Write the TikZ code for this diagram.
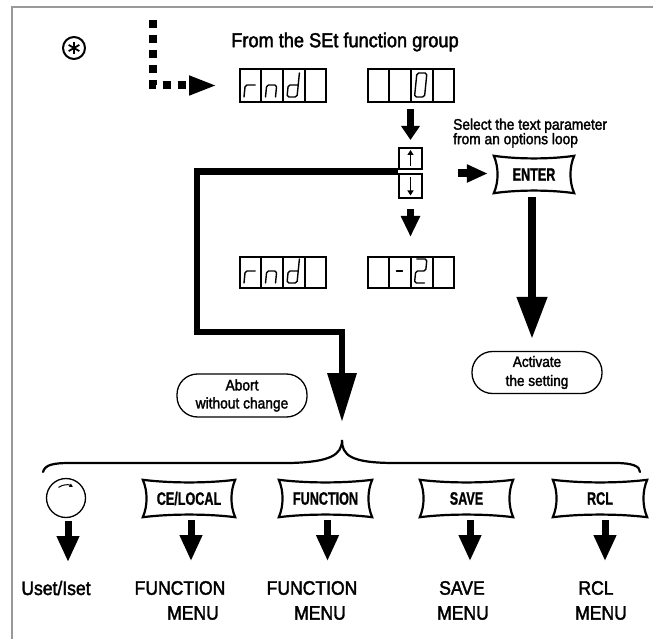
\documentclass[tikz,border=0pt]{standalone}
\usepackage{fontspec}
\setmainfont[FakeStretch=0.9,FakeBold=2]{Liberation Sans}
\newfontfamily\keyfont[FakeStretch=0.7,FakeBold=1]{Liberation Sans Bold}
\usetikzlibrary{arrows.meta,calc}
\tikzset{
  frameline/.style={draw=black!40, line width=2.4pt},
  disp/.style={draw, line width=2pt, minimum width=86pt, minimum height=33pt, inner sep=0pt},
  segline/.style={line width=1.4pt, rounded corners=1.8pt, line cap=round, line join=round},
  ubox/.style={draw, line width=2pt, minimum width=23pt, inner sep=0pt},
  keybtn/.style={minimum height=37pt, inner sep=0pt, font=\keyfont\fontsize{18}{18}\selectfont},
  keyline/.style={line width=2.2pt, line join=miter},
  stadium/.style={draw, line width=1.3pt, rounded corners=20.5pt, minimum width=130pt, minimum height=42pt, inner sep=0pt, align=center},
  lab/.style={font=\fontsize{19.5}{19.5}\selectfont, inner sep=0pt},
  arrS/.style={line width=7pt, -{Triangle[width=19pt,length=20pt]}},
  arrB/.style={line width=7pt, -{Triangle[width=21pt,length=26pt]}},
  arrL/.style={line width=7.5pt, -{Triangle[width=29pt,length=42pt]}},
  arrLoop/.style={line width=6.5pt, -{Triangle[width=28pt,length=49pt]}},
  dotarr/.style={line width=8pt, dash pattern=on 8pt off 7pt, -{Triangle[width=18pt,length=28pt]}},
}
\newcommand\keyoutline[1]{%
  \draw[keyline] (#1.north west)
   .. controls ($(#1.north west)!0.3!(#1.north east)+(0,-3.5)$) and ($(#1.north west)!0.7!(#1.north east)+(0,-3.5)$) .. (#1.north east)
   .. controls ($(#1.north east)!0.3!(#1.south east)+(-5,0)$) and ($(#1.north east)!0.7!(#1.south east)+(-5,0)$) .. (#1.south east)
   .. controls ($(#1.south east)!0.3!(#1.south west)+(0,3.5)$) and ($(#1.south east)!0.7!(#1.south west)+(0,3.5)$) .. (#1.south west)
   .. controls ($(#1.south west)!0.3!(#1.north west)+(5,0)$) and ($(#1.south west)!0.7!(#1.north west)+(5,0)$) .. cycle;}
\newcommand\celldividers[1]{%
  \foreach \f in {0.25,0.5,0.75}
    \draw[line width=2pt] ($(#1.north west)!\f!(#1.north east)$) -- ($(#1.south west)!\f!(#1.south east)$);}
\newcommand\sevenseg[3]{%
  \begin{scope}[shift={(#1+4,#2+5)}, x=10pt, y=24pt, xslant=0.1]
    \draw[segline] #3;
  \end{scope}}
\begin{document}
\begin{tikzpicture}[x=1pt,y=1pt]
\useasboundingbox (0,0) rectangle (653,-639);
% frame
\draw[frameline] (12,-639) -- (12,-7) -- (653,-7);

% star symbol
\node[circle, draw, line width=2pt, minimum size=22pt, inner sep=0pt] (star) at (74,-48) {};
\foreach \a in {90,30,150,210,270,330}
  \draw[line width=1.8pt] (star.center) -- ++(\a:6.2);

% title
\node[font=\fontsize{20.2}{20.2}\selectfont] (title) at (345,-42) {From the SEt function group};

% displays
\node[disp] (d1) at (283,-85.5) {};
\node[disp] (d2) at (410.5,-85.5) {};
\node[disp, minimum height=31pt] (d3) at (283,-272.5) {};
\node[disp, minimum height=31pt] (d4) at (410.5,-272.5) {};
\celldividers{d1}\celldividers{d2}\celldividers{d3}\celldividers{d4}
% digits
\sevenseg{240}{-102}{(0,0) -- (0,0.5) -- (1,0.5)}
\sevenseg{261.5}{-102}{(0,0) -- (0,0.5) -- (1,0.5) -- (1,0)}
\sevenseg{283}{-102}{(1,1) -- (1,0) -- (0,0) -- (0,0.5) -- (1,0.5)}
\sevenseg{410.5}{-102}{(0,0) -- (0,1) -- (1,1) -- (1,0) -- cycle}
\sevenseg{240}{-288}{(0,0) -- (0,0.5) -- (1,0.5)}
\sevenseg{261.5}{-288}{(0,0) -- (0,0.5) -- (1,0.5) -- (1,0)}
\sevenseg{283}{-288}{(1,1) -- (1,0) -- (0,0) -- (0,0.5) -- (1,0.5)}
\sevenseg{389.25}{-288}{(0.2,0.5) -- (0.8,0.5)}
\sevenseg{410.5}{-288}{(0,1) -- (1,1) -- (1,0.5) -- (0,0.5) -- (0,0) -- (1,0)}

% dotted arrow into first display
\coordinate (dotstart) at (153,-20);
\draw[dotarr] (dotstart) -- (dotstart |- d1.west) -- ([xshift=-22pt]d1.west);

% up/down keys
\node[ubox, minimum height=21pt] (up) at (410.5,-158.5) {};
\node[ubox, minimum height=24pt] (dn) at (410.5,-186) {};
\draw[line width=1.8pt, -{Triangle[width=6pt,length=5pt]}] ($(up.south)+(0,3.5)$) -- ($(up.north)+(0,-3)$);
\draw[line width=1.8pt, -{Triangle[width=6pt,length=5pt]}] ($(dn.north)+(0,-4)$) -- ($(dn.south)+(0,3.5)$);

\draw[arrS, -{Triangle[width=18pt,length=14pt]}] ([yshift=-6pt]d2.south) -- ([yshift=7pt]up.north);
\draw[arrS, -{Triangle[width=18pt,length=21pt]}] ([yshift=-10pt]dn.south) -- ([yshift=19pt]d4.north);

% select text
\node[anchor=west, align=left, inner sep=0pt, font=\fontsize{15.3}{14.5}\selectfont] (sel) at (453,-133) {Select the text parameter\\from an options loop};

% ENTER key
\node[keybtn, minimum width=80pt] (enter) at (534,-174.5) {ENTER};
\keyoutline{enter}
\draw[line width=8pt, -{Triangle[width=17pt,length=21pt]}] ([xshift=-36pt,yshift=1pt]enter.west) -- ([xshift=-6pt,yshift=1pt]enter.west);

% Activate
\node[stadium, font=\fontsize{15.1}{19}\selectfont] (act) at (537,-372.5) {Activate\\the setting};
\draw[arrL] ([xshift=-2pt,yshift=-4pt]enter.south) -- ([xshift=-5pt,yshift=12pt]act.north);

% Abort
\node[stadium, minimum height=43pt, font=\fontsize{15.3}{18}\selectfont] (abort) at (242,-395.5) {Abort\\without change};

% loop line
\coordinate (loopstart) at ($(up.south west)!0.5!(dn.north west)$);
\coordinate (bracetip) at (342,-440);
\draw[arrLoop] (loopstart) -- (197,-171.5) -- (197,-332) -- (342,-332) -- ([yshift=18pt]bracetip);

% brace
\draw[line width=2.2pt, line cap=round] (43,-472) .. controls (45,-465) and (52,-463) .. (70,-463) -- (290,-463)
  .. controls (330,-462) and (342,-455) .. (bracetip)
  .. controls (342,-455) and (350,-463) .. (395,-463) -- (615,-463)
  .. controls (632,-463) and (640,-466) .. (640,-472);

% bottom row
\node[circle, draw, line width=1.3pt, minimum size=39pt, inner sep=0pt] (knob) at (66,-498) {};
\draw[line width=1pt, -{Triangle[width=3.5pt,length=3.5pt]}] ($(knob.center)+(125:13)$) arc[start angle=125, end angle=58, radius=13];
\node[keybtn, minimum width=92pt] (ce) at (189,-498.5) {CE/LOCAL};
\node[keybtn, minimum width=93pt] (fn) at (325.5,-498.5) {FUNCTION};
\node[keybtn, minimum width=93pt] (sv) at (466.5,-498.5) {SAVE};
\node[keybtn, minimum width=94pt] (rc) at (600,-498.5) {RCL};
\keyoutline{ce}\keyoutline{fn}\keyoutline{sv}\keyoutline{rc}

\node[lab] (l1) at (56,-588) {Uset/Iset};
\node[lab] (l2a) at (180,-588) {FUNCTION};
\node[lab] (l2b) at (193,-613) {MENU};
\node[lab] (l3a) at (312,-588) {FUNCTION};
\node[lab] (l3b) at (320,-613) {MENU};
\node[lab] (l4a) at (462,-588) {SAVE};
\node[lab] (l4b) at (463,-613) {MENU};
\node[lab] (l5a) at (596,-588) {RCL};
\node[lab] (l5b) at (601,-613) {MENU};

\draw[arrB] ([xshift=2pt,yshift=-3pt]knob.south) -- ++(0,-41);
\draw[arrB] ([xshift=2pt,yshift=-3pt]ce.south) -- ++(0,-41);
\draw[arrB] ([xshift=2pt,yshift=-3pt]fn.south) -- ++(0,-41);
\draw[arrB] ([xshift=3.5pt,yshift=-3pt]sv.south) -- ++(0,-41);
\draw[arrB] ([xshift=5pt,yshift=-3pt]rc.south) -- ++(0,-41);
\end{tikzpicture}
\end{document}
